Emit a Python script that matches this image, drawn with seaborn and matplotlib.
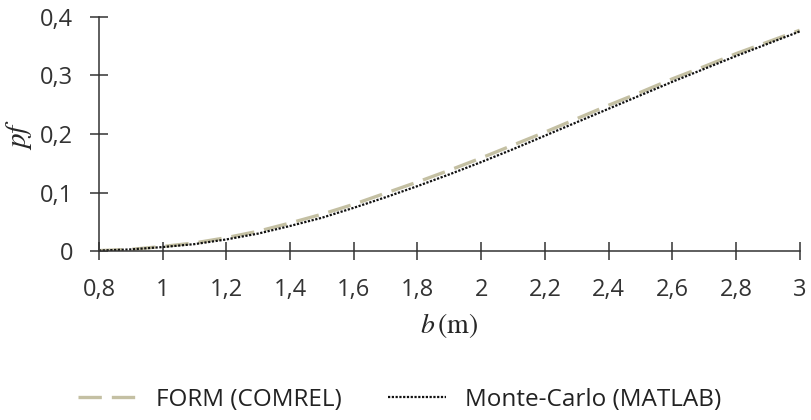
import matplotlib
matplotlib.use("Agg")
import matplotlib.pyplot as plt
import seaborn as sns
import pandas as pd
from matplotlib.ticker import FuncFormatter

# Footing width b (m) and probability of failure from the two methods
b_values = [0.8, 0.9, 1.0, 1.1, 1.2, 1.3, 1.4, 1.5, 1.6, 1.7, 1.8, 1.9,
            2.0, 2.1, 2.2, 2.3, 2.4, 2.5, 2.6, 2.7, 2.8, 2.9, 3.0]
pf_form = [0.001, 0.003, 0.008, 0.014, 0.023, 0.034, 0.048, 0.063, 0.080,
           0.099, 0.118, 0.138, 0.159, 0.181, 0.203, 0.226, 0.249, 0.271,
           0.294, 0.315, 0.337, 0.357, 0.377]
pf_mc = [0.001, 0.003, 0.007, 0.012, 0.020, 0.030, 0.043, 0.057, 0.074,
         0.092, 0.111, 0.131, 0.152, 0.174, 0.197, 0.220, 0.243, 0.266,
         0.289, 0.311, 0.333, 0.354, 0.375]
series_names = ["FORM (COMREL)", "Monte-Carlo (MATLAB)"]
x_ticks = [0.8, 1.0, 1.2, 1.4, 1.6, 1.8, 2.0, 2.2, 2.4, 2.6, 2.8, 3.0]
y_ticks = [0.0, 0.1, 0.2, 0.3, 0.4]

sns.set_style("white")
plt.rcParams["font.family"] = ["Open Sans", "DejaVu Sans"]
plt.rcParams["mathtext.fontset"] = "stix"

df_form = pd.DataFrame({"b": b_values, "pf": pf_form})
df_mc = pd.DataFrame({"b": b_values, "pf": pf_mc})

fig = plt.figure(figsize=(8.11, 4.20), dpi=100)
ax = fig.add_axes([0.122, 0.402, 0.864, 0.558])

sns.lineplot(data=df_form, x="b", y="pf", ax=ax, color="#c4c0a3",
             linewidth=2.4, label=series_names[0])
ax.lines[-1].set_dashes([7.0, 3.0])
sns.lineplot(data=df_mc, x="b", y="pf", ax=ax, color="#111111",
             linewidth=1.6, label=series_names[1])
ax.lines[-1].set_dashes([1, 0.7])

ax.set_xlim(0.8, 3.0)
ax.set_ylim(0.0, 0.4)
ax.set_xticks(x_ticks)
ax.set_yticks(y_ticks)

comma = FuncFormatter(lambda v, pos: f"{v:g}".replace(".", ","))
ax.xaxis.set_major_formatter(comma)
ax.yaxis.set_major_formatter(comma)

for side in ("top", "right"):
    ax.spines[side].set_visible(False)
for side in ("left", "bottom"):
    ax.spines[side].set_color("#333333")
    ax.spines[side].set_linewidth(1.1)

ax.tick_params(axis="both", bottom=True, left=True, direction="inout",
               length=13, width=1.1, color="#333333", labelsize=17,
               labelcolor="#333333")
ax.tick_params(axis="x", pad=13)
ax.tick_params(axis="y", pad=12)

ax.set_xlabel(r"$b\,\mathrm{(m)}$", fontsize=20, labelpad=6)
ax.set_ylabel(r"$pf$", fontsize=21, labelpad=4)

handles, labels = ax.get_legend_handles_labels()
ax.get_legend().remove()
fig.legend(handles, labels, loc="center", bbox_to_anchor=(0.493, 0.048),
           ncol=2, frameon=False, fontsize=17.5, handlelength=2.4,
           columnspacing=1.9, handletextpad=0.8, labelcolor="#222222")

fig.savefig("out.png", dpi=100, facecolor="white")
